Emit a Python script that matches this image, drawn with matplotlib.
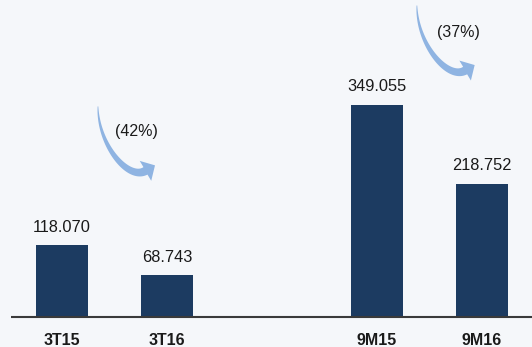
import numpy as np
import matplotlib.pyplot as plt
from matplotlib.patches import Polygon

# ---------------- Data ----------------
categories = ["3T15", "3T16", "9M15", "9M16"]
positions = [0, 1, 3, 4]
values = [118.070, 68.743, 349.055, 218.752]
value_labels = ["118.070", "68.743", "349.055", "218.752"]
changes = ["(42%)", "(37%)"]

bar_color = "#1c3b61"
arrow_color = "#8fb4e2"
bg_color = "#f5f7fa"

plt.rcParams["font.family"] = ["Liberation Sans", "DejaVu Sans"]

fig = plt.figure(figsize=(5.32, 3.47), dpi=100, facecolor=bg_color)
ax = fig.add_axes([0, 0, 1, 1])
ax.set_facecolor(bg_color)
ax.set_xlim(-0.59, 4.476)
ax.set_ylim(-49.8, 521)
ax.axis("off")

# ---------------- Bars + labels ----------------
ax.bar(positions, values, width=0.5, color=bar_color, zorder=2)
ax.hlines(0, -0.486, 4.476, color="#3a3a3a", lw=1.5, zorder=3)

for x, v, lab in zip(positions, values, value_labels):
    ax.text(x, v + 17, lab, ha="center", va="bottom", fontsize=11.8, color="#1a1a1a")

for x, cat in zip(positions, categories):
    ax.text(x, -26, cat, ha="center", va="top", fontsize=11.5, fontweight="bold", color="#1a1a1a")


# ---------------- Curved arrows ----------------
def curved_arrow(ax, start, tip, color, w_end=8.5, head_w=23.0, head_len=11.0, angle=30):
    tr = ax.transData
    p0 = tr.transform(start)
    pt = tr.transform(tip)
    d = np.array([np.cos(np.deg2rad(angle)), np.sin(np.deg2rad(angle))])
    e = pt - head_len * d
    c1 = p0 - np.array([0, 0.6 * (p0[1] - e[1])])
    c2 = e - 20 * d
    t = np.linspace(0, 1, 80)[:, None]
    pts = (1 - t) ** 3 * p0 + 3 * (1 - t) ** 2 * t * c1 + 3 * (1 - t) * t ** 2 * c2 + t ** 3 * e
    tang = np.gradient(pts, axis=0)
    n = np.stack([-tang[:, 1], tang[:, 0]], axis=1)
    n /= np.linalg.norm(n, axis=1)[:, None]
    w = (0.6 + (w_end - 0.6) * t[:, 0] ** 0.8) / 2
    left = pts + n * w[:, None]
    right = pts - n * w[:, None]
    nrm = np.array([-d[1], d[0]])
    head = np.array([e + nrm * head_w / 2, pt, e - nrm * head_w / 2])
    poly = np.vstack([left, head, right[::-1]])
    ax.add_patch(Polygon(tr.inverted().transform(poly), closed=True,
                         fc=color, ec="none", zorder=1))


curved_arrow(ax, (0.343, 346), (0.886, 249), arrow_color)
curved_arrow(ax, (3.38, 512), (3.93, 414), arrow_color)

ax.text(0.71, 305, changes[0], ha="center", va="center", fontsize=11.5, color="#1a1a1a")
ax.text(3.78, 468, changes[1], ha="center", va="center", fontsize=11.5, color="#1a1a1a")

fig.savefig("out.png", dpi=100, facecolor=bg_color)
